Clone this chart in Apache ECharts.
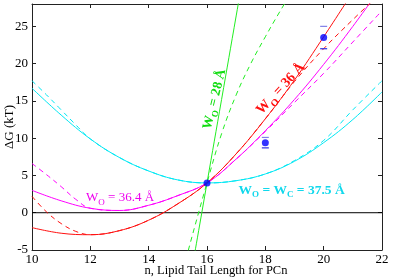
<!DOCTYPE html>
<html>
<head>
<meta charset="utf-8">
<script src="https://cdn.jsdelivr.net/npm/echarts@6/dist/echarts.min.js"></script>
<style>html,body{margin:0;padding:0;background:#fff;}#c{width:393px;height:279px;}</style>
</head>
<body>
<div id="c"></div>
<script>
// ---- data ----
const xTicks = [10, 12, 14, 16, 18, 20, 22];
const yTicks = [-5, 0, 5, 10, 15, 20, 25];
const zeroLine = [[10, 0], [22, 0]];

const cyanSolid = [[10,16.7],[11,13.1],[12,9.9],[13,7.4],[14,5.6],[15,4.4],[16,4.0],[17,4.3],[18,5.2],[19,6.9],[20,9.4],[21,12.5],[22,16.2]];
const cyanDashed = [[10,17.7],[10.5,15.8],[11,13.8],[11.5,11.8],[12,9.9],[13,7.4],[14,5.6],[15,4.4],[16,4.0],[17,4.3],[18,5.2],[19,7.0],[20,9.7],[21,13.8],[22,17.7]];

const magentaSolid = [[10,3.0],[11,1.6],[12,0.6],[13,0.3],[14,1.0],[15,2.3],[16,4.0],[17,7.2],[18,11.0],[19,15.2],[20,19.9],[21,25.0],[22,30.4]];
const magentaDashed = [[10,6.6],[10.5,5.1],[11,3.5],[11.5,1.8],[12,0.6],[13,0.3],[14,1.0],[15,2.3],[16,4.0],[17,7.2],[18,10.9],[19,14.8],[20,18.7],[21,22.9],[22,27.1]];

const redSolid = [[10,-2.0],[11,-2.75],[12,-2.95],[13,-2.4],[14,-1.0],[15,1.2],[16,4.0],[17,7.9],[18,12.6],[19,17.8],[20,23.6],[21,29.6]];
const redDashed = [[10,2.2],[10.5,0.1],[11,-1.45],[11.5,-2.5],[12,-2.95],[13,-2.4],[14,-1.0],[15,1.2],[16,4.0],[17,7.9],[18,12.6],[19,17.6],[20,22.0],[21,25.9],[22,29.6]];

const greenSolid = [[15.5,-7.2],[16,4.0],[16.5,15.2],[17,26.4],[17.5,37.6]];
const greenDashed = [[15.2,-7.4],[15.5,-3.0],[16,4.0],[16.5,10.6],[17,15.8],[17.5,20.0],[18,23.6],[18.5,27.0],[19,30.2]];

const points = [[16,4.0],[18,9.4],[20,23.5]];
const errBars = [[18,8.7,10.1],[20,22.0,25.0]];

const FONT = 'Liberation Serif';
const chart = echarts.init(document.getElementById('c'), null, {renderer:'canvas'});

function lineSeries(data, color, dashed) {
  return {
    type: 'line', data: data, symbol: 'none', smooth: 0.4, clip: true, silent: true,
    lineStyle: {color: color, width: 1, type: dashed ? [5, 4] : 'solid'},
    z: 3
  };
}

const axisCommon = {
  type: 'value',
  splitLine: {show: false},
  nameMoveOverlap: false,
  axisLine: {onZero: false, lineStyle: {color: '#222', width: 1}},
  axisTick: {inside: true, length: 4, lineStyle: {color: '#222'}}
};

chart.setOption({
  animation: false,
  backgroundColor: '#fff',
  grid: {left: 32, right: 11, top: 4, bottom: 29, containLabel: false, outerBoundsMode: 'none'},
  xAxis: [
    Object.assign({}, axisCommon, {
      min: xTicks[0], max: xTicks[xTicks.length-1], interval: 2, position: 'bottom',
      axisLabel: {fontFamily: FONT, fontSize: 13, color: '#000', margin: 3},
      name: 'n, Lipid Tail Length for PCn', nameLocation: 'middle', nameGap: 14,
      nameTextStyle: {fontFamily: FONT, fontSize: 12.5, color: '#000', padding: [0,0,0,18]}
    }),
    Object.assign({}, axisCommon, {
      min: xTicks[0], max: xTicks[xTicks.length-1], interval: 2, position: 'top',
      axisLabel: {show: false}
    })
  ],
  yAxis: [
    Object.assign({}, axisCommon, {
      min: yTicks[0], max: 28, interval: 5, position: 'left',
      axisLabel: {fontFamily: FONT, fontSize: 13, color: '#000', margin: 4, showMaxLabel: false},
      name: 'ΔG (kT)', nameLocation: 'middle', nameGap: 16, nameRotate: 90,
      nameTextStyle: {fontFamily: FONT, fontSize: 13, color: '#000'}
    }),
    Object.assign({}, axisCommon, {
      min: yTicks[0], max: 28, interval: 5, position: 'right',
      axisLabel: {show: false}
    })
  ],
  series: [
    {type: 'line', data: zeroLine, symbol: 'none', silent: true, lineStyle: {color: '#000', width: 1}, z: 2},
    lineSeries(cyanDashed, '#00e8f4', true),
    lineSeries(cyanSolid, '#00e8f4', false),
    lineSeries(magentaDashed, '#ff00ff', true),
    lineSeries(magentaSolid, '#ff00ff', false),
    lineSeries(redDashed, '#ff1010', true),
    lineSeries(redSolid, '#ff1010', false),
    lineSeries(greenDashed, '#22ee22', true),
    lineSeries(greenSolid, '#22ee22', false),
    {
      type: 'custom', data: errBars, silent: true, z: 5,
      renderItem: function (params, api) {
        const lo = api.coord([api.value(0), api.value(1)]);
        const hi = api.coord([api.value(0), api.value(2)]);
        return {type: 'group', children: [
          {type: 'line', shape: {x1: hi[0]-3.5, y1: hi[1], x2: hi[0]+3.5, y2: hi[1]}, style: {stroke: '#8080e8', lineWidth: 1.2}},
          {type: 'line', shape: {x1: lo[0]-3.5, y1: lo[1], x2: lo[0]+3.5, y2: lo[1]}, style: {stroke: '#3030e0', lineWidth: 1.2}}
        ]};
      }
    },
    {type: 'scatter', data: points, symbol: 'circle', symbolSize: 7, silent: true,
     itemStyle: {color: '#0000ff'}, z: 6}
  ]
});

function richStyle(color, size, bold) {
  const w = bold ? 'bold' : 'normal';
  return {
    m: {fill: color, fontFamily: FONT, fontSize: size, fontWeight: w, lineHeight: size + 1, verticalAlign: 'top'},
    s: {fill: color, fontFamily: FONT, fontSize: Math.round(size * 0.7), fontWeight: w, lineHeight: Math.round(size * 0.7), padding: [Math.round(size*0.55),0,0,0], verticalAlign: 'top'}
  };
}

function label(n, v, text, color, size, bold, rotDeg) {
  const p = chart.convertToPixel({xAxisIndex: 0, yAxisIndex: 0}, [n, v]);
  return {
    type: 'text', x: p[0], y: p[1], rotation: rotDeg * Math.PI / 180, z: 10, silent: true,
    style: {text: text, rich: richStyle(color, size, bold), align: 'center', verticalAlign: 'middle', fill: color}
  };
}

chart.setOption({
  graphic: [
    label(16.27, 15.2, '{m|W}{s|O}{m| = 28 Å}', '#11dd11', 13.5, true, 76),
    label(18.54, 16.6, '{m|W}{s|O}{m| = 36 Å}', '#ff1010', 14, true, 47),
    label(13.02, 2.0, '{m|W}{s|O}{m| = 36.4 Å}', '#ee00ee', 13, false, 0),
    label(18.9, 3.0, '{m|W}{s|O}{m| = W}{s|C}{m| = 37.5 Å}', '#11d8ec', 13.5, true, 0)
  ]
});
</script>
</body>
</html>
